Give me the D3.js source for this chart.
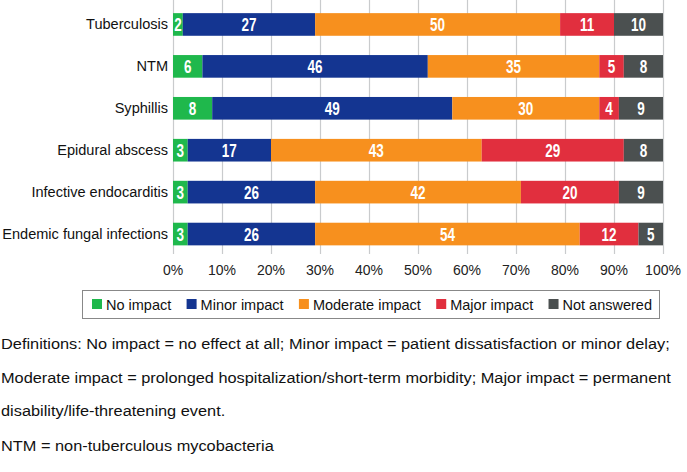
<!DOCTYPE html>
<html>
<head>
<meta charset="utf-8">
<script src="https://cdn.jsdelivr.net/npm/d3@7"></script>
<style>
  body { margin: 0; background: #fff; }
  svg { display: block; }
  text { font-family: "Liberation Sans", Arial, sans-serif; }
</style>
</head>
<body>
<div id="graph"></div>
<script>
// data
let diseases = ["Tuberculosis", "NTM", "Syphillis", "Epidural abscess", "Infective endocarditis", "Endemic fungal infections"];
let levels = ["No impact", "Minor impact", "Moderate impact", "Major impact", "Not answered"];
let noImpact = [2, 6, 8, 3, 3, 3];
let minorImpact = [27, 46, 49, 17, 26, 26];
let moderateImpact = [50, 35, 30, 43, 42, 54];
let majorImpact = [11, 5, 4, 29, 20, 12];
let notAnswered = [10, 8, 9, 8, 9, 5];
let ticks = [0, 10, 20, 30, 40, 50, 60, 70, 80, 90, 100];
let colors = ["#1fb84c", "#143591", "#f7901e", "#e12f3e", "#4b5050"];
let notes = [
  "Definitions: No impact = no effect at all; Minor impact = patient dissatisfaction or minor delay;",
  "Moderate impact = prolonged hospitalization/short-term morbidity; Major impact = permanent",
  "disability/life-threatening event.",
  "NTM = non-tuberculous mycobacteria"
];

let width = 687, height = 472;
let svg = d3.select("#graph").append("svg")
  .attr("width", width)
  .attr("height", height);

// build rows for the stack
let rows = diseases.map((d, i) => ({
  disease: d,
  "No impact": noImpact[i],
  "Minor impact": minorImpact[i],
  "Moderate impact": moderateImpact[i],
  "Major impact": majorImpact[i],
  "Not answered": notAnswered[i]
}));
let series = d3.stack().keys(levels)(rows);

let x = d3.scaleLinear().domain([0, 100]).range([173, 663]);
let y = d3.scaleBand().domain(diseases).range([3.5, 255]).paddingInner(0.46).paddingOuter(0.23);
let color = d3.scaleOrdinal().domain(levels).range(colors);

// grid
svg.append("g")
  .selectAll("line")
  .data(ticks)
  .join("line")
  .attr("x1", d => x(d) + 0.5).attr("x2", d => x(d) + 0.5)
  .attr("y1", 0).attr("y2", 254)
  .attr("stroke", "#c9cbcd")
  .attr("stroke-width", 1.2);

// x tick labels
svg.append("g")
  .selectAll("text")
  .data(ticks)
  .join("text")
  .attr("x", d => x(d))
  .attr("y", 275)
  .attr("text-anchor", "middle")
  .attr("font-size", 14)
  .attr("fill", "#222")
  .text(d => d + "%");

// bars
let groups = svg.append("g")
  .selectAll("g")
  .data(series)
  .join("g")
  .attr("fill", d => color(d.key));

groups.selectAll("rect")
  .data(d => d)
  .join("rect")
  .attr("x", d => x(d[0]))
  .attr("y", d => y(d.data.disease))
  .attr("width", d => x(d[1]) - x(d[0]))
  .attr("height", y.bandwidth());

// value labels
groups.selectAll("text")
  .data(d => d.map(v => ({ v: v, key: d.key })))
  .join("text")
  .attr("transform", d => "translate(" + ((x(d.v[0]) + x(d.v[1])) / 2) + "," + (y(d.v.data.disease) + y.bandwidth() / 2 + 6.5) + ") scale(0.75,1)")
  .attr("text-anchor", "middle")
  .attr("font-family", "'Liberation Sans Narrow', 'DejaVu Sans Condensed', sans-serif")
  .attr("font-weight", "bold")
  .attr("font-size", 18)
  .attr("fill", "#fff")
  .text(d => d.v[1] - d.v[0]);

// category labels
svg.append("g")
  .selectAll("text")
  .data(diseases)
  .join("text")
  .attr("transform", d => "translate(168," + (y(d) + y.bandwidth() / 2 + 5) + ") scale(1.04,1)")
  .attr("text-anchor", "end")
  .attr("font-size", 14)
  .attr("fill", "#111")
  .text(d => d);

// legend
let legend = svg.append("g");
legend.append("rect")
  .attr("x", 82.5).attr("y", 290.5)
  .attr("width", 577).attr("height", 28)
  .attr("fill", "#fff")
  .attr("stroke", "#888")
  .attr("stroke-width", 1);

let items = legend.selectAll("g")
  .data(levels)
  .join("g");
items.append("rect")
  .attr("width", 10).attr("height", 10)
  .attr("y", 299)
  .attr("fill", d => color(d));
items.append("text")
  .attr("x", 14)
  .attr("y", 309.5)
  .attr("font-size", 14.5)
  .attr("fill", "#111")
  .text(d => d);

// spread items between 92 and 652
let widths = [];
items.each(function() { widths.push(d3.select(this).select("text").node().getComputedTextLength() + 14); });
let gap = (652 - 92 - d3.sum(widths)) / (levels.length - 1);
let pos = 92;
items.each(function(d, i) {
  d3.select(this).attr("transform", "translate(" + pos + ",0)");
  pos += widths[i] + gap;
});

// footnotes
svg.append("g")
  .selectAll("text")
  .data(notes)
  .join("text")
  .attr("transform", (d, i) => "translate(1," + [348.5, 382.5, 416, 450.5][i] + ") scale(1.09,1)")
  .attr("font-size", 15)
  .attr("fill", "#111")
  .text(d => d);
</script>
</body>
</html>
